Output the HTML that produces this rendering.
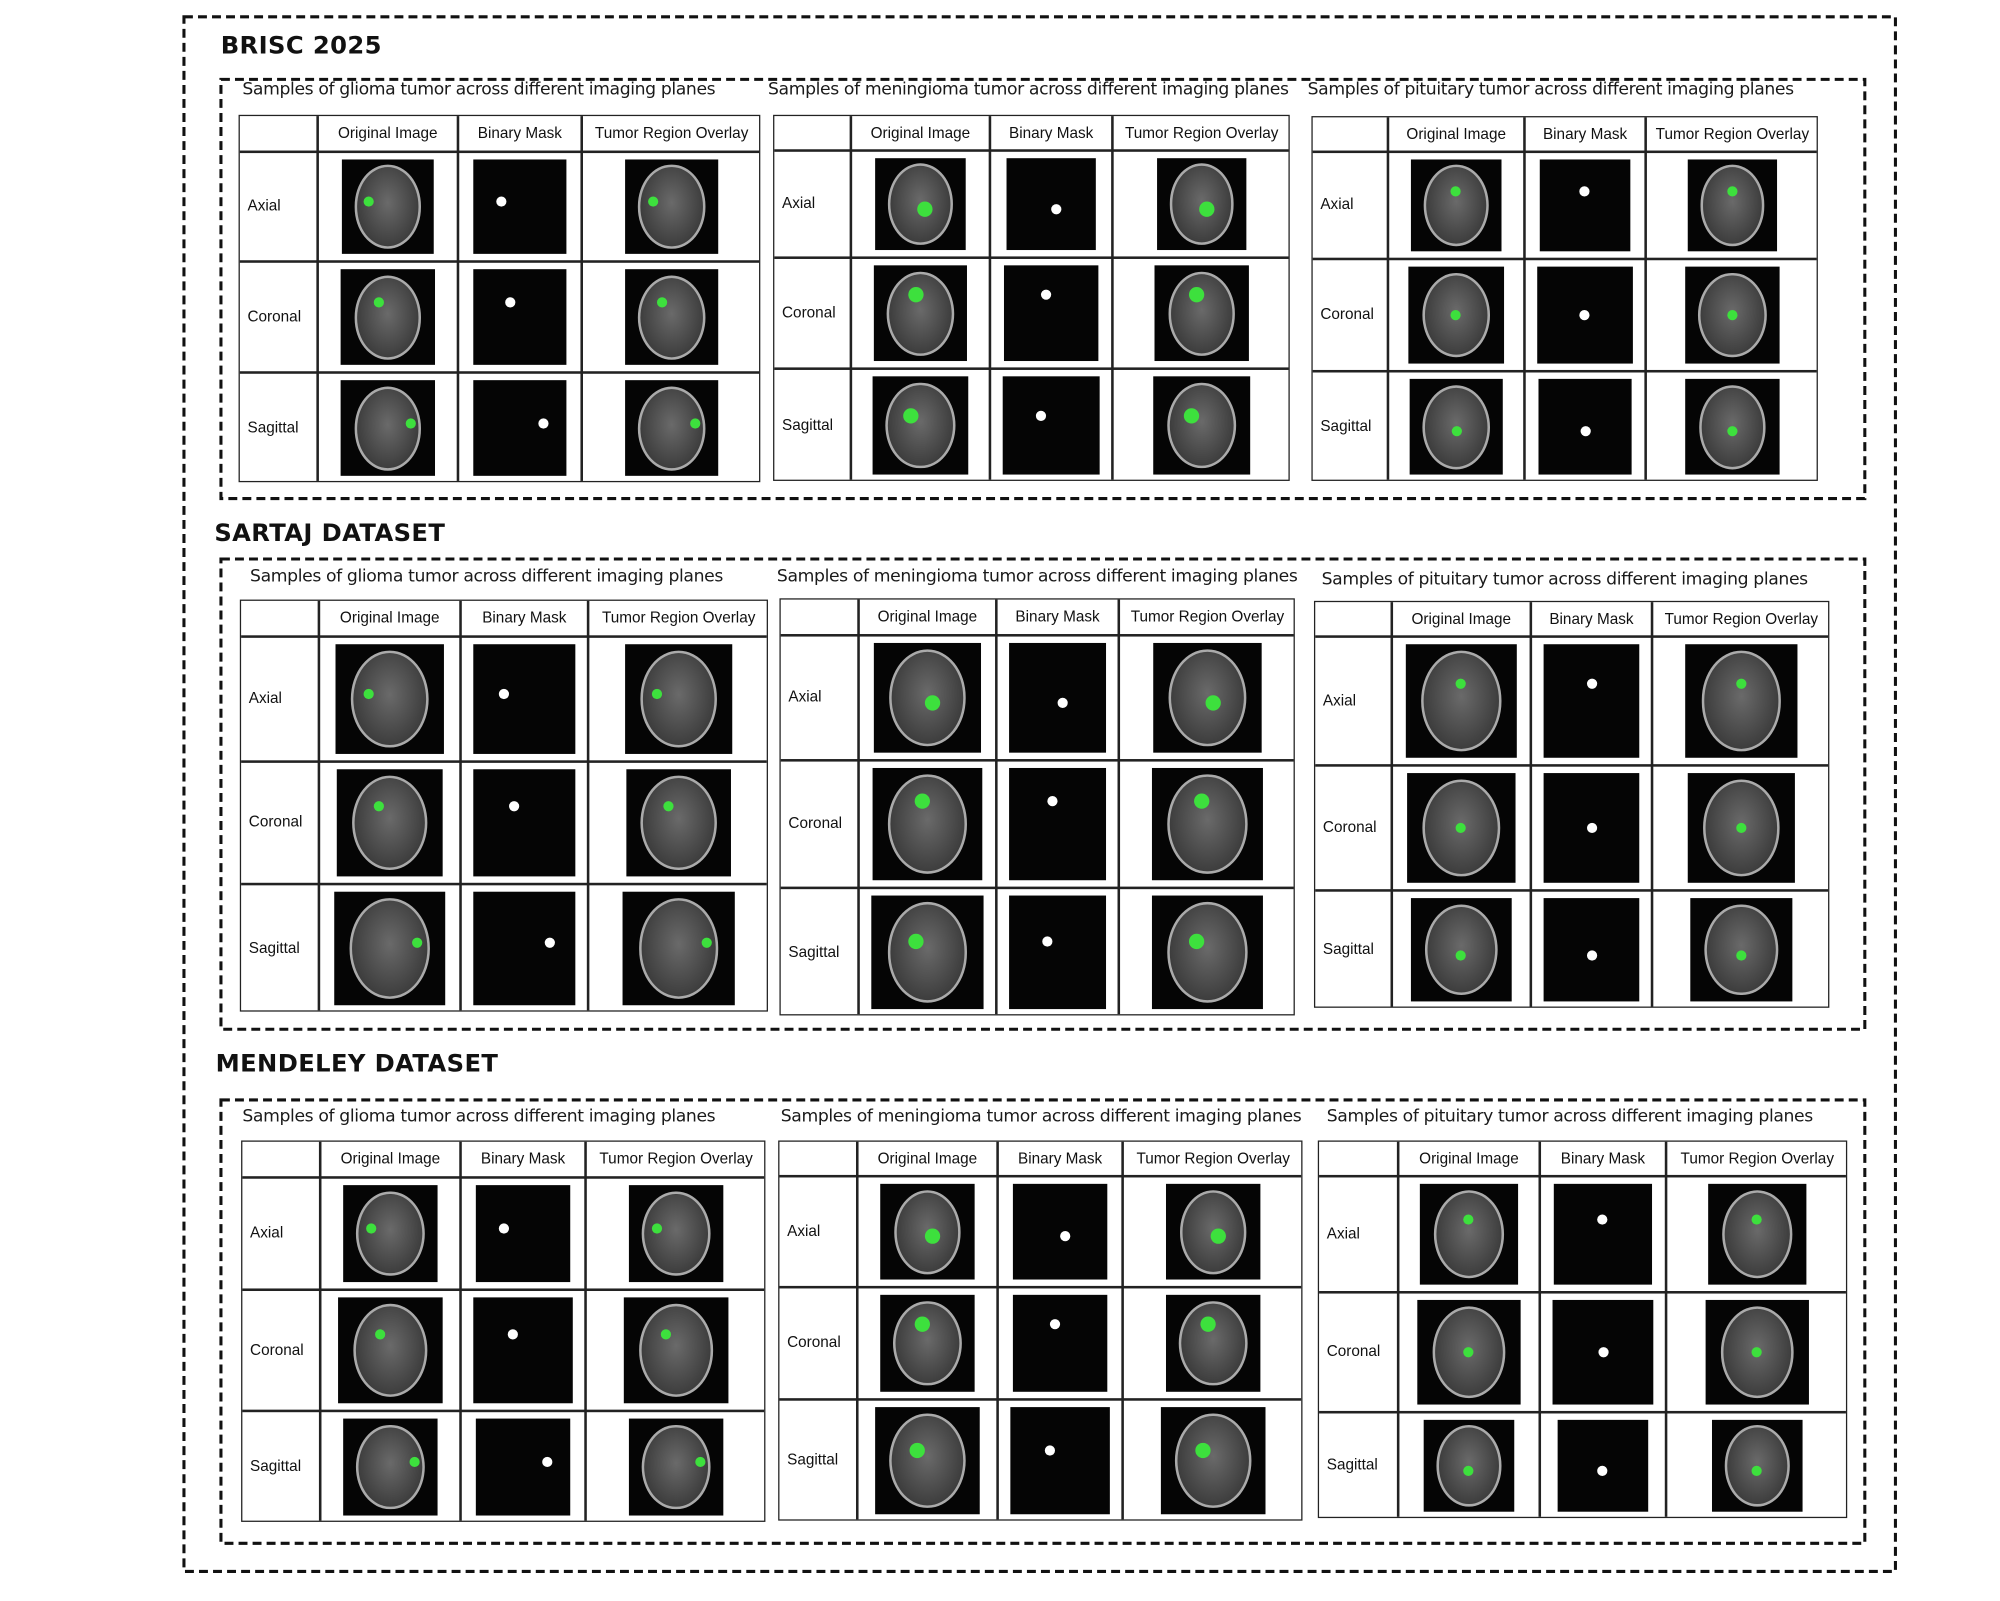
<!DOCTYPE html>
<html><head><meta charset="utf-8">
<style>
html,body{margin:0;padding:0;background:#fff;width:2000px;height:1600px;overflow:hidden}
#root{position:absolute;left:0;top:0;width:1570px;height:1255px;transform:scale(1.2757);transform-origin:0 0}
.dash{position:absolute;box-sizing:border-box}
.dash svg{position:absolute;left:0;top:0;overflow:visible}
.title{position:absolute;font-family:"DejaVu Sans","Liberation Sans",sans-serif;font-weight:bold;font-size:19px;letter-spacing:0.3px;color:#111}
.cap{position:absolute;font-family:"DejaVu Sans","Liberation Sans",sans-serif;font-size:13.5px;color:#1a1a1a;white-space:nowrap;letter-spacing:-0.3px}
.tbl{position:absolute;border:1.5px solid #222;box-sizing:border-box;background:#fff}
.vl{position:absolute;top:0;bottom:0;width:1.5px;background:#222}
.hl{position:absolute;left:0;right:0;height:1.5px;background:#222}
.hd{position:absolute;font-family:"Liberation Sans",sans-serif;font-size:12px;color:#111;text-align:center;white-space:nowrap}
.rl{position:absolute;font-family:"Liberation Sans",sans-serif;font-size:12px;color:#111}
.img{position:absolute;background:#050505}
.brain{position:absolute;border-radius:50%;border:2px solid #aaa;box-sizing:border-box;background:radial-gradient(ellipse at 50% 45%,#6a6a6a,#3e3e3e 70%,#2a2a2a)}
.blob{position:absolute;border-radius:50%}
</style></head><body>
<div id="root"></div>
<script>
const sections=[
 {name:'BRISC 2025',tx:173,ty:25,box:[172,61,1291,331],caps:[[190,62],[602,62],[1025,62]],
  tables:[[[187,248,358,455,596],[90,118,204,291,378]],[[606,666,775,871,1011],[90,117,201,288,377]],[[1028,1087,1194,1289,1425],[91,118,202,290,377]]]},
 {name:'SARTAJ DATASET',tx:168,ty:407,box:[172,437,1291,371],caps:[[196,444],[609,444],[1036,446]],
  tables:[[[188,249,360,460,602],[470,498,596,692,793]],[[611,672,780,876,1015],[469,497,595,695,796]],[[1030,1090,1199,1294,1434],[471,498,599,697,790]]]},
 {name:'MENDELEY DATASET',tx:169,ty:823,box:[172,861,1291,350],caps:[[190,867],[612,867],[1040,867]],
  tables:[[[189,250,360,458,600],[894,922,1010,1105,1193]],[[610,671,781,879,1021],[894,921,1008,1096,1192]],[[1033,1095,1206,1305,1448],[894,921,1012,1106,1190]]]}
];
const tumors=['glioma','meningioma','pituitary'];
const headers=['Original Image','Binary Mask','Tumor Region Overlay'];
const planes=['Axial','Coronal','Sagittal'];
const blobPos=[[[0.3,0.45],[0.4,0.35],[0.75,0.45]],[[0.55,0.55],[0.45,0.3],[0.4,0.4]],[[0.5,0.35],[0.5,0.5],[0.5,0.55]]];
const root=document.getElementById('root');
function mk(cls,style,parent){const d=document.createElement('div');d.className=cls;Object.assign(d.style,style);(parent||root).appendChild(d);return d;}
function dashBox(x,y,w,h){
 const d=mk('dash',{left:x+'px',top:y+'px',width:w+'px',height:h+'px'});
 d.innerHTML='<svg width="'+w+'" height="'+h+'"><rect x="1.2" y="1.2" width="'+(w-2.4)+'" height="'+(h-2.4)+'" fill="none" stroke="#111" stroke-width="2.4" stroke-dasharray="7 4"/></svg>';
 return d;
}
const ob=dashBox(143,12,1344,1221);


sections.forEach((s,si)=>{
 const t=mk('title',{left:s.tx+'px',top:s.ty+'px'});t.textContent=s.name;
 
 
 const b=dashBox(s.box[0],s.box[1],s.box[2],s.box[3]);
 
 
 s.tables.forEach((tb,ti)=>{
  const c=mk('cap',{left:s.caps[ti][0]+'px',top:s.caps[ti][1]+'px'});
  c.textContent='Samples of '+tumors[ti]+' tumor across different imaging planes';
  
  
  const [xs,ys]=tb;const x0=xs[0],y0=ys[0];
  const T=mk('tbl',{left:x0+'px',top:y0+'px',width:(xs[4]-x0)+'px',height:(ys[4]-y0)+'px'});
  
  
  for(let i=1;i<4;i++){mk('vl',{left:(xs[i]-x0-1)+'px'},T);mk('hl',{top:(ys[i]-y0-1)+'px'},T);}
  for(let i=0;i<3;i++){
   const h=mk('hd',{left:(xs[i+1]-x0)+'px',width:(xs[i+2]-xs[i+1])+'px',top:((ys[1]-y0)/2-8)+'px'},T);
   h.textContent=headers[i];
   
   
  }
  for(let r=0;r<3;r++){
   const cy=(ys[r+1]+ys[r+2])/2-y0;
   const l=mk('rl',{left:'6px',top:(cy-8)+'px'},T);l.textContent=planes[r];
   
   
   const ch=ys[r+2]-ys[r+1];
   for(let k=0;k<3;k++){
    const cw=xs[k+2]-xs[k+1];
    const ih=ch-12, iw=Math.min(cw-20,ih*0.98);
    const cx=(xs[k+1]+xs[k+2])/2-x0;
    const im=mk('img',{left:(cx-iw/2)+'px',top:(cy-ih/2)+'px',width:iw+'px',height:ih+'px'},T);
    
    
    if(k!==1){mk('brain',{left:(iw*0.14)+'px',top:(ih*0.06)+'px',width:(iw*0.72)+'px',height:(ih*0.88)+'px'},im);}
    const bp=blobPos[ti][r];const bs=ti===1&&k!==1?12:8;
    mk('blob',{left:(bp[0]*iw-bs/2)+'px',top:(bp[1]*ih-bs/2)+'px',width:bs+'px',height:bs+'px',background:k===1?'#fff':'#3de03d'},im);
   }
  }
 });
});
</script>
</body></html>
